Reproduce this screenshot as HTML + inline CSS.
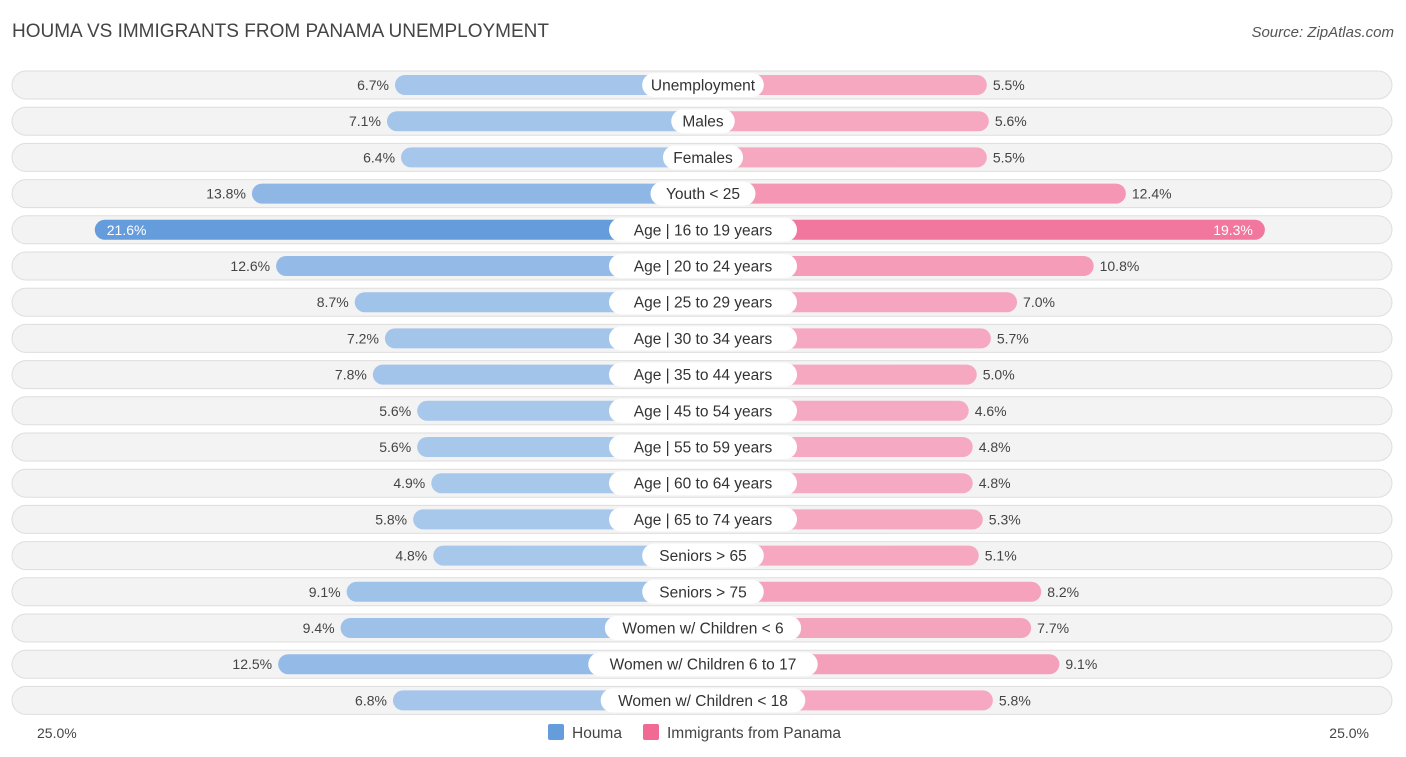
<!DOCTYPE html>
<html><head><meta charset="utf-8"><style>
body{margin:0;width:1406px;height:757px;background:#fff;font-family:"Liberation Sans",sans-serif;position:relative;overflow:hidden}
.t{position:absolute;white-space:nowrap}
</style></head><body>
<div class="t" style="left:12px;top:21px;font-size:19px;color:#444">HOUMA VS IMMIGRANTS FROM PANAMA UNEMPLOYMENT</div>
<div class="t" style="right:12px;top:24px;font-size:15px;color:#555;font-style:italic">Source: ZipAtlas.com</div>
<svg id="chart" width="1406" height="757" style="position:absolute;left:0;top:0"></svg>
<script>
const categories=["Unemployment","Males","Females","Youth < 25","Age | 16 to 19 years","Age | 20 to 24 years","Age | 25 to 29 years","Age | 30 to 34 years","Age | 35 to 44 years","Age | 45 to 54 years","Age | 55 to 59 years","Age | 60 to 64 years","Age | 65 to 74 years","Seniors > 65","Seniors > 75","Women w/ Children < 6","Women w/ Children 6 to 17","Women w/ Children < 18"];
const houma=[6.7,7.1,6.4,13.8,21.6,12.6,8.7,7.2,7.8,5.6,5.6,4.9,5.8,4.8,9.1,9.4,12.5,6.8];
const panama=[5.5,5.6,5.5,12.4,19.3,10.8,7.0,5.7,5.0,4.6,4.8,4.8,5.3,5.1,8.2,7.7,9.1,5.8];
const axisLabels=["25.0%","25.0%"];
const svg=document.getElementById('chart');const NS="http://www.w3.org/2000/svg";
const cx=703,off=173,k=20.15,y0=85,dy=36.2;
const len=v=>off+k*v;const yc=i=>y0+i*dy;
function mk(t,a,name){const e=document.createElementNS(NS,t);for(const q in a)e.setAttribute(q,a[q]);svg.appendChild(e);return e;}
function mix(a,b,t){return 'rgb('+a.map((x,i)=>Math.round(x+(b[i]-x)*t)).join(',')+')';}
const maxV=Math.max(...houma,...panama);
categories.forEach((c,i)=>{
 const y=yc(i);
 mk('rect',{x:12,y:y-14,width:1380,height:28,rx:14,fill:'#f3f3f3',stroke:'#dedede'},'row-background');
 const lh=len(houma[i]),lp=len(panama[i]);
 const th=houma[i]/maxV,tp=panama[i]/maxV;
 mk('rect',{x:cx-lh,y:y-10,width:lh,height:20,rx:10,fill:mix([172,202,236],[100,156,220],Math.pow(th,2))},'bar-houma');
 mk('rect',{x:cx,y:y-10,width:lp,height:20,rx:10,fill:mix([246,172,196],[240,106,148],Math.pow(tp,2))},'bar-panama');
 const strongH=houma[i]>18,strongP=panama[i]>18;
 const t1=mk('text',{x:strongH?cx-lh+12:cx-lh-6,y:y+5,'font-size':14,fill:strongH?'#fff':'#444','text-anchor':strongH?'start':'end'},'value-houma');t1.textContent=houma[i].toFixed(1)+'%';
 const t2=mk('text',{x:strongP?cx+lp-12:cx+lp+6,y:y+5,'font-size':14,fill:strongP?'#fff':'#444','text-anchor':strongP?'end':'start'},'value-panama');t2.textContent=panama[i].toFixed(1)+'%';
 const w=c.length*8.3+22;
 mk('rect',{x:cx-w/2,y:y-12,width:w,height:24,rx:12,fill:'#fff'},'category-pill');
 const tl=mk('text',{x:cx,y:y+5.5,'font-size':15.5,fill:'#333','text-anchor':'middle'},'category-label');tl.textContent=c;
});
const a1=mk('text',{x:37,y:738,'font-size':14,fill:'#444'},'axis-label-left');a1.textContent=axisLabels[0];
const a2=mk('text',{x:1369,y:738,'font-size':14,fill:'#444','text-anchor':'end'},'axis-label-right');a2.textContent=axisLabels[1];
mk('rect',{x:548,y:724,width:16,height:16,rx:2,fill:'#649cdc'},'legend-swatch-houma');
const l1=mk('text',{x:572,y:738,'font-size':15.5,fill:'#444'},'legend-houma');l1.textContent='Houma';
mk('rect',{x:643,y:724,width:16,height:16,rx:2,fill:'#f06a94'},'legend-swatch-panama');
const l2=mk('text',{x:667,y:738,'font-size':15.5,fill:'#444'},'legend-panama');l2.textContent='Immigrants from Panama';
</script>
</body></html>
